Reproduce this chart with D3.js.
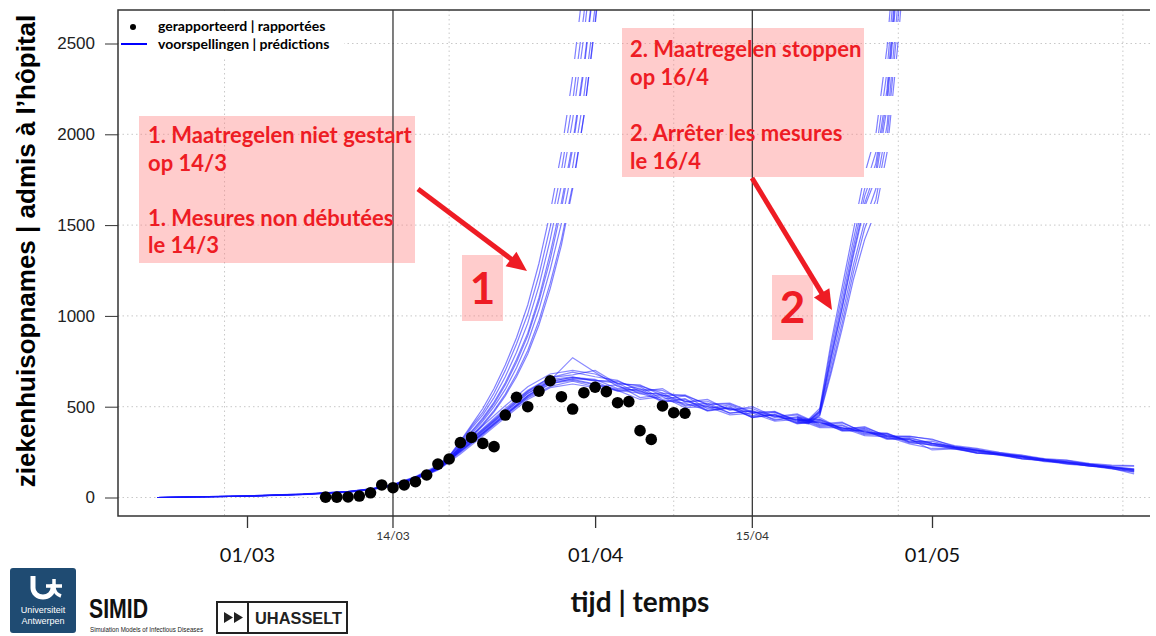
<!DOCTYPE html>
<html>
<head>
<meta charset="utf-8">
<script src="https://cdn.jsdelivr.net/npm/d3@7"></script>
<style>
  body { margin: 0; background: #fff; }
  svg { display: block; }
</style>
</head>
<body>
<div id="chart"></div>
<script>
// reported admissions (black dots)
const reportedDates = ["08/03","09/03","10/03","11/03","12/03","13/03","14/03","15/03","16/03","17/03","18/03","19/03",
  "20/03","21/03","22/03","23/03","24/03","25/03","26/03","27/03","28/03","29/03","30/03","31/03",
  "01/04","02/04","03/04","04/04","05/04","06/04","07/04","08/04","09/04"];
const reportedValues = [2,2,3,8,26,69,54,69,87,124,184,212,
  302,331,298,280,454,552,500,586,643,555,487,577,
  607,583,522,528,368,320,504,467,464];

// predictions with measures (base scenario)
const baselineDates = ["22/02","01/03","06/03","10/03","12/03","14/03",
  "16/03","18/03","20/03","22/03","24/03","26/03","28/03","30/03",
  "01/04","03/04","05/04","07/04","09/04","11/04","13/04","15/04","17/04","19/04","21/04","23/04","25/04","27/04","29/04",
  "01/05","03/05","05/05","07/05","09/05","11/05","13/05","15/05","17/05","19/05"];
const baseline1  = [0,7,17,30,44,66, 104,158,252,350,452,560,640,662, 650,600,610,540,560,490,510,450,470,415,430,375,380,330,325, 300,282,260,247,226,212,196,186,168,156];
const baseline2  = [0,9,19,33,47,70, 112,172,275,380,490,590,660,690, 665,645,585,600,525,540,480,500,445,460,405,415,355,355,305, 310,276,262,236,226,201,194,172,168,148];
const baseline3  = [0,8,18,31,44,67, 106,160,256,352,455,548,612,640, 610,620,550,565,505,510,465,475,430,440,390,395,345,345,300, 292,266,254,232,222,198,192,172,164,145];
const baseline4  = [0,8,18,32,46,69, 110,168,268,372,478,582,650,665, 640,585,600,530,545,480,500,440,460,410,425,370,375,325,330, 298,276,260,242,226,210,196,182,168,152];
const baseline5  = [0,7,16,29,42,64, 100,150,240,338,440,540,605,625, 605,590,540,555,495,500,455,465,420,430,385,385,340,335,295, 270,270,244,238,214,204,186,177,160,140];
const baseline6  = [0,9,20,34,48,72, 115,178,285,395,505,610,680,700, 680,630,615,575,560,515,520,470,470,425,430,380,385,340,335, 322,280,266,240,232,208,204,182,174,172];
const baseline7  = [0,8,17,31,45,68, 108,164,262,365,470,572,645,770, 690,612,580,565,530,500,488,470,448,430,412,385,362,340,318, 296,274,256,238,222,206,194,180,166,154];
const baseline8  = [0,7,17,30,43,65, 103,155,248,345,448,552,625,655, 645,630,570,575,510,520,465,480,425,445,395,400,350,350,305, 288,275,250,240,218,207,190,180,162,150];
const baseline9  = [0,8,18,31,45,68, 107,161,258,358,462,562,635,650, 625,595,590,525,540,475,495,440,455,405,420,365,370,320,322, 262,268,244,234,212,202,184,174,157,142];
const baseline10 = [0,9,19,33,47,70, 111,170,272,375,482,585,660,675, 700,625,620,560,565,510,515,465,475,420,440,375,390,335,338, 318,286,270,248,234,214,206,188,178,175];
const baseline11 = [0,8,18,32,45,68, 108,165,264,368,472,575,640,660, 645,640,595,590,530,530,485,490,440,455,400,410,360,352,310, 298,278,260,242,226,210,198,182,170,158];
const baseline12 = [0,7,17,30,44,66, 105,158,254,355,458,558,628,645, 622,590,575,535,520,480,490,445,455,410,415,370,365,325,318, 286,272,246,236,214,204,188,177,160,130];
const baselineSeries = [baseline1,baseline2,baseline3,baseline4,baseline5,baseline6,
  baseline7,baseline8,baseline9,baseline10,baseline11,baseline12];

// scenario 1: measures not started on 14/3
const noMeasureDates = ["16/03","17/03","18/03","19/03","20/03","21/03","22/03","23/03","24/03","25/03",
  "26/03","27/03","28/03","29/03","30/03","31/03","01/04","02/04"];
const noMeasure1 = [108,136,172,228,310,400,490,600,730,880,1060,1290,1570,1900,2320,2850,3400,4100];
const noMeasure2 = [106,131,162,210,282,360,430,515,620,745,890,1080,1310,1590,1920,2350,2880,3450];
const noMeasure3 = [105,128,158,200,268,340,405,480,570,680,810,975,1180,1420,1720,2100,2600,3200];
const noMeasure4 = [107,134,168,220,298,382,455,550,665,800,960,1165,1420,1720,2080,2540,3100,3750];
const noMeasure5 = [107,132,164,212,286,365,438,525,632,760,905,1100,1345,1625,1950,2380,2900,3500];
const noMeasure6 = [104,126,155,197,262,332,398,472,560,665,790,950,1150,1390,1700,2100,2620,3200];
const noMeasure7 = [108,135,170,225,305,392,470,575,700,845,1010,1225,1490,1800,2180,2660,3250,3900];
const noMeasure8 = [106,130,160,205,275,350,420,500,595,715,855,1035,1255,1510,1820,2210,2700,3280];
const noMeasureSeries = [noMeasure1,noMeasure2,noMeasure3,noMeasure4,noMeasure5,noMeasure6,noMeasure7,noMeasure8];

// scenario 2: measures stop on 16/4
const stopDates = ["19/04","20/04","21/04","22/04","23/04","24/04","25/04","26/04","27/04","28/04","29/04"];
const stop1 = [430,420,470,760,1040,1330,1600,1760,2150,2900,3600];
const stop2 = [440,425,480,820,1120,1420,1700,1900,2350,3100,3800];
const stop3 = [420,410,455,700,960,1240,1480,1640,1980,2650,3400];
const stop4 = [435,422,475,790,1080,1380,1660,1840,2250,3000,3700];
const stop5 = [425,415,460,730,1000,1280,1520,1700,2050,2750,3500];
const stop6 = [445,430,490,850,1160,1470,1780,2000,2480,3250,3900];
const stop7 = [415,405,450,680,930,1200,1420,1580,1900,2520,3300];
const stop8 = [432,418,468,770,1050,1350,1620,1800,2200,2950,3650];
const stopSeries = [stop1,stop2,stop3,stop4,stop5,stop6,stop7,stop8];

// axis ticks
const yTicks = [0,500,1000,1500,2000,2500];
const xMajorTicks = ["01/03","01/04","01/05"];
const eventDates = ["14/03","15/04"];
const gridDates = ["28/02","19/03","08/04","28/04","18/05"];

const width = 1156, height = 636;
const plot = {left: 118, right: 1150, top: 10, bottom: 516};

const parseDay = s => d3.utcParse("%d/%m/%Y")(s + "/2020");
const fmt = d3.utcFormat("%d/%m");

const x = d3.scaleUtc()
  .domain([parseDay("01/03"), parseDay("01/05")])
  .range([247, 932]);
const y = d3.scaleLinear()
  .domain([0, 2500])
  .range([497.5, 43.5]);

const svg = d3.select("#chart").append("svg")
  .attr("width", width)
  .attr("height", height);

const defs = svg.append("defs");
defs.append("clipPath").attr("id", "plotClip")
  .append("rect")
  .attr("x", plot.left).attr("y", plot.top)
  .attr("width", plot.right - plot.left).attr("height", plot.bottom - plot.top);

// the steep prediction lines show up broken into dashes near the top
const visibleBands = [[10,22],[42,59],[77,96],[115,133],[152,168],[188,204],[223,516]];
defs.append("clipPath").attr("id", "bandClip")
  .selectAll("rect")
  .data(visibleBands)
  .join("rect")
  .attr("x", plot.left).attr("width", plot.right - plot.left)
  .attr("y", d => d[0]).attr("height", d => d[1] - d[0]);

// gridlines
svg.append("g")
  .selectAll("line")
  .data(yTicks)
  .join("line")
  .attr("x1", plot.left).attr("x2", plot.right)
  .attr("y1", d => y(d)).attr("y2", d => y(d))
  .attr("stroke", "#c8c8c8").attr("stroke-dasharray", "1.5,3");
svg.append("g")
  .selectAll("line")
  .data(gridDates)
  .join("line")
  .attr("x1", d => x(parseDay(d))).attr("x2", d => x(parseDay(d)))
  .attr("y1", plot.top).attr("y2", plot.bottom)
  .attr("stroke", "#c8c8c8").attr("stroke-dasharray", "1.5,3");

// legend background hides the grid behind it
svg.append("rect")
  .attr("x", plot.left + 1).attr("y", plot.top + 1)
  .attr("width", 225).attr("height", 47)
  .attr("fill", "#fff");

// annotation boxes (semi transparent pink)
const pink = "#ff8080", pinkOpacity = 0.4;
const boxes = [
  {x: 139, y: 116, w: 276, h: 147},
  {x: 622, y: 28, w: 242, h: 149},
  {x: 462, y: 255, w: 41, h: 66},
  {x: 772, y: 275, w: 41, h: 65}
];
svg.append("g")
  .selectAll("rect")
  .data(boxes)
  .join("rect")
  .attr("x", d => d.x).attr("y", d => d.y)
  .attr("width", d => d.w).attr("height", d => d.h)
  .attr("fill", pink).attr("fill-opacity", pinkOpacity);

// event lines 14/03 and 15/04
svg.append("g")
  .selectAll("line")
  .data(eventDates)
  .join("line")
  .attr("x1", d => x(parseDay(d))).attr("x2", d => x(parseDay(d)))
  .attr("y1", plot.top).attr("y2", plot.bottom + 12)
  .attr("stroke", "#3a3a3a").attr("stroke-width", 1.3);
svg.append("g")
  .selectAll("text")
  .data(eventDates)
  .join("text")
  .attr("x", d => x(parseDay(d))).attr("y", 540)
  .attr("text-anchor", "middle")
  .attr("font-family", "Lato, sans-serif").attr("font-size", 12)
  .attr("fill", "#333")
  .text(d => fmt(parseDay(d)));

// prediction lines
const line = d3.line()
  .x(d => x(d.date))
  .y(d => y(d.value));
const toPoints = (dates, values) => dates.map((d, i) => ({date: parseDay(d), value: values[i]}));

const lineColor = "#1515ff";
const plotG = svg.append("g").attr("clip-path", "url(#plotClip)");
plotG.append("g")
  .selectAll("path")
  .data(baselineSeries)
  .join("path")
  .attr("d", v => line(toPoints(baselineDates, v)))
  .attr("fill", "none").attr("stroke", lineColor)
  .attr("stroke-width", 1.2).attr("stroke-opacity", 0.5);

const bandG = plotG.append("g").attr("clip-path", "url(#bandClip)");
bandG.append("g")
  .selectAll("path")
  .data(noMeasureSeries)
  .join("path")
  .attr("d", v => line(toPoints(noMeasureDates, v)))
  .attr("fill", "none").attr("stroke", lineColor)
  .attr("stroke-width", 1.2).attr("stroke-opacity", 0.55);
bandG.append("g")
  .selectAll("path")
  .data(stopSeries)
  .join("path")
  .attr("d", v => line(toPoints(stopDates, v)))
  .attr("fill", "none").attr("stroke", lineColor)
  .attr("stroke-width", 1.2).attr("stroke-opacity", 0.55);

// reported dots
svg.append("g")
  .selectAll("circle")
  .data(toPoints(reportedDates, reportedValues))
  .join("circle")
  .attr("cx", d => x(d.date)).attr("cy", d => y(d.value))
  .attr("r", 5.8)
  .attr("fill", "#000");

// frame
svg.append("path")
  .attr("d", `M${plot.right},${plot.top}H${plot.left}V${plot.bottom}H${plot.right}`)
  .attr("fill", "none").attr("stroke", "#333").attr("stroke-width", 1.5);

// y axis
const yAxis = svg.append("g")
  .attr("transform", `translate(${plot.left},0)`)
  .call(d3.axisLeft(y).tickValues(yTicks).tickSize(13).tickPadding(10).tickFormat(d3.format("d")));
yAxis.select(".domain").remove();
yAxis.selectAll("line").attr("stroke", "#333");
yAxis.selectAll("text")
  .attr("font-family", "'Liberation Sans', Arial, sans-serif")
  .attr("font-size", 17).attr("fill", "#222");

// x axis
const xAxis = svg.append("g")
  .attr("transform", `translate(0,${plot.bottom})`)
  .call(d3.axisBottom(x)
    .tickValues(xMajorTicks.map(parseDay))
    .tickSize(12)
    .tickFormat(fmt));
xAxis.select(".domain").remove();
xAxis.selectAll("line").attr("stroke", "#333").attr("stroke-width", 1.3);
xAxis.selectAll("text")
  .attr("y", 46).attr("dy", 0)
  .attr("font-family", "Lato, sans-serif")
  .attr("font-size", 20).attr("fill", "#111");

// axis titles
svg.append("text")
  .attr("transform", "translate(35,251) rotate(-90)")
  .attr("text-anchor", "middle")
  .attr("font-family", "'Liberation Sans', Arial, sans-serif")
  .attr("font-weight", "bold").attr("font-size", 26)
  .attr("fill", "#000")
  .text("ziekenhuisopnames | admis à l’hôpital");
svg.append("text")
  .attr("x", 640).attr("y", 612)
  .attr("text-anchor", "middle")
  .attr("font-family", "Lato, sans-serif")
  .attr("font-weight", "bold").attr("font-size", 28)
  .attr("fill", "#111")
  .text("tijd | temps");

// legend
const legendFont = "Lato, sans-serif";
svg.append("circle").attr("cx", 133).attr("cy", 27).attr("r", 3).attr("fill", "#000");
svg.append("line").attr("x1", 121).attr("x2", 147).attr("y1", 44).attr("y2", 44)
  .attr("stroke", "#0000ff").attr("stroke-width", 2);
svg.append("text").attr("x", 158).attr("y", 31)
  .attr("font-family", legendFont).attr("font-weight", "bold").attr("font-size", 14)
  .text("gerapporteerd | rapportées");
svg.append("text").attr("x", 158).attr("y", 49)
  .attr("font-family", legendFont).attr("font-weight", "bold").attr("font-size", 14)
  .text("voorspellingen | prédictions");

// annotations
const red = "#ee1c24";
const notes = [
  {x: 148, y: 143, t: "1. Maatregelen niet gestart"},
  {x: 148, y: 170.5, t: "op 14/3"},
  {x: 148, y: 225.5, t: "1. Mesures non débutées"},
  {x: 148, y: 253, t: "le 14/3"},
  {x: 630, y: 57, t: "2. Maatregelen stoppen"},
  {x: 630, y: 85, t: "op 16/4"},
  {x: 630, y: 141, t: "2. Arrêter les mesures"},
  {x: 630, y: 169, t: "le 16/4"}
];
svg.append("g")
  .selectAll("text")
  .data(notes)
  .join("text")
  .attr("x", d => d.x).attr("y", d => d.y)
  .attr("font-family", "Lato, sans-serif").attr("font-weight", "bold")
  .attr("font-size", 22).attr("fill", red)
  .text(d => d.t);
svg.append("text").attr("x", 482.5).attr("y", 304).attr("text-anchor", "middle")
  .attr("font-family", "Lato, sans-serif").attr("font-weight", "bold")
  .attr("font-size", 44).attr("fill", red).text("1");
svg.append("text").attr("x", 792.5).attr("y", 323).attr("text-anchor", "middle")
  .attr("font-family", "Lato, sans-serif").attr("font-weight", "bold")
  .attr("font-size", 44).attr("fill", red).text("2");

// arrows
function arrow(x1, y1, x2, y2) {
  const a = Math.atan2(y2 - y1, x2 - x1);
  const len = 20, half = 9;
  const bx = x2 - len * Math.cos(a), by = y2 - len * Math.sin(a);
  svg.append("line")
    .attr("x1", x1).attr("y1", y1).attr("x2", bx + 2 * Math.cos(a)).attr("y2", by + 2 * Math.sin(a))
    .attr("stroke", red).attr("stroke-width", 5);
  svg.append("path")
    .attr("d", `M${x2},${y2}L${bx - half * Math.sin(a)},${by + half * Math.cos(a)}L${bx + half * Math.sin(a)},${by - half * Math.cos(a)}Z`)
    .attr("fill", red);
}
arrow(418, 189, 527, 271);
arrow(752, 178, 832, 310);

// logos
const ua = svg.append("g");
ua.append("rect").attr("x", 10).attr("y", 568).attr("width", 66).attr("height", 65).attr("rx", 3)
  .attr("fill", "#1f4b72");
ua.append("path").attr("d", "M33,576 v12 a10,9 0 0 0 20,0 v-4")
  .attr("fill", "none").attr("stroke", "#fff").attr("stroke-width", 5);
ua.append("path").attr("d", "M46,586 h16 M54,579 v9 q1,6 7,8")
  .attr("fill", "none").attr("stroke", "#fff").attr("stroke-width", 3.5);
ua.append("text").attr("x", 43).attr("y", 613).attr("text-anchor", "middle")
  .attr("font-family", "'Liberation Sans', Arial, sans-serif").attr("font-size", 9).attr("fill", "#fff")
  .text("Universiteit");
ua.append("text").attr("x", 43).attr("y", 624).attr("text-anchor", "middle")
  .attr("font-family", "'Liberation Sans', Arial, sans-serif").attr("font-size", 9).attr("fill", "#fff")
  .text("Antwerpen");

svg.append("text").attr("x", 89).attr("y", 618)
  .attr("font-family", "'Liberation Sans', Arial, sans-serif").attr("font-weight", "bold")
  .attr("font-size", 28).attr("textLength", 59).attr("lengthAdjust", "spacingAndGlyphs")
  .attr("fill", "#111").text("SIMID");
svg.append("text").attr("x", 90).attr("y", 632)
  .attr("font-family", "'Liberation Sans', Arial, sans-serif")
  .attr("font-size", 7).attr("textLength", 113).attr("lengthAdjust", "spacingAndGlyphs")
  .attr("fill", "#222").text("Simulation Models of Infectious Diseases");

const uh = svg.append("g");
uh.append("rect").attr("x", 217).attr("y", 602).attr("width", 130).attr("height", 31)
  .attr("fill", "#fff").attr("stroke", "#222").attr("stroke-width", 2);
uh.append("line").attr("x1", 248).attr("x2", 248).attr("y1", 602).attr("y2", 633)
  .attr("stroke", "#222").attr("stroke-width", 2);
uh.append("path").attr("d", "M224,612 l9,5.5 l-9,5.5 Z M234,612 l9,5.5 l-9,5.5 Z").attr("fill", "#222");
uh.append("text").attr("x", 255).attr("y", 624)
  .attr("font-family", "'Liberation Sans', Arial, sans-serif").attr("font-weight", "bold")
  .attr("font-size", 16).attr("textLength", 87).attr("lengthAdjust", "spacingAndGlyphs")
  .attr("fill", "#222").text("UHASSELT");
</script>
</body>
</html>
